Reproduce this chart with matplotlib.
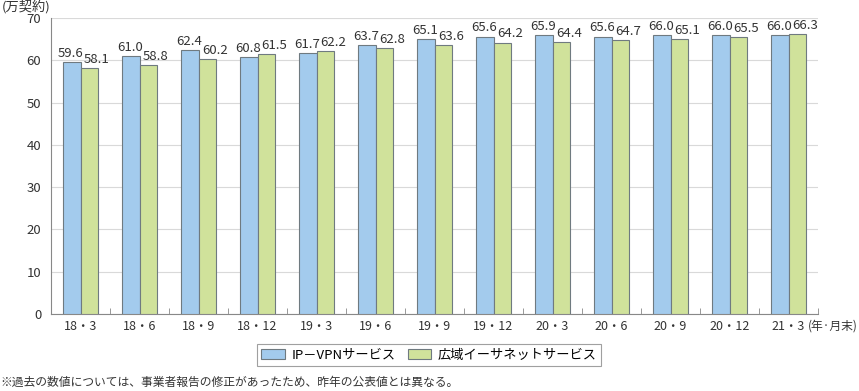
import numpy as np
import matplotlib
matplotlib.use('Agg')
import matplotlib.pyplot as plt
from matplotlib.patches import Patch

plt.rcParams['font.family'] = ['Noto Sans CJK JP', 'DejaVu Sans']

categories = ['18・3', '18・6', '18・9', '18・12', '19・3', '19・6', '19・9',
              '19・12', '20・3', '20・6', '20・9', '20・12', '21・3']
ipvpn = [59.6, 61.0, 62.4, 60.8, 61.7, 63.7, 65.1, 65.6, 65.9, 65.6, 66.0, 66.0, 66.0]
ether = [58.1, 58.8, 60.2, 61.5, 62.2, 62.8, 63.6, 64.2, 64.4, 64.7, 65.1, 65.5, 66.3]
yticks = [0, 10, 20, 30, 40, 50, 60, 70]

blue = '#a3cbed'
green = '#d0e29b'
edge = '#6f7a80'
text_col = '#333333'

fig = plt.figure(figsize=(8.59, 3.91), dpi=100)
ax = fig.add_axes([51 / 859, 1 - 314 / 391, 767 / 859, 296 / 391])

x = np.arange(len(categories))
w = 0.29
ax.bar(x - w / 2, ipvpn, w, color=blue, edgecolor=edge, linewidth=0.8, zorder=3)
ax.bar(x + w / 2, ether, w, color=green, edgecolor=edge, linewidth=0.8, zorder=3)

for xi, a, b in zip(x, ipvpn, ether):
    ax.text(xi - w / 2 - 0.02, a + 0.5, f'{a:.1f}', ha='center', va='bottom',
            fontsize=9.5, color=text_col)
    ax.text(xi + w / 2 + 0.13, b + 0.5, f'{b:.1f}', ha='center', va='bottom',
            fontsize=9.5, color=text_col)

ax.set_xlim(-0.5, len(categories) - 0.5)
ax.set_ylim(0, 70)
ax.set_yticks(yticks)
ax.set_yticklabels([str(v) for v in yticks], fontsize=9.5, color=text_col)
ax.set_xticks(x)
ax.set_xticklabels(categories, fontsize=9, color=text_col)
ax.tick_params(axis='x', length=0, pad=4)
ax.tick_params(axis='y', length=0, pad=7)
ax.set_xticks(np.arange(len(categories) + 1) - 0.5, minor=True)
ax.tick_params(axis='x', which='minor', length=4, direction='in', color='#888888')

ax.grid(axis='y', color='#d9d9d9', linewidth=0.8, zorder=0)
for s in ['top', 'right']:
    ax.spines[s].set_visible(False)
for s in ['left', 'bottom']:
    ax.spines[s].set_color('#888888')
    ax.spines[s].set_linewidth(0.8)

fig.text(2 / 859, 1 - 7 / 391, '(万契約)', fontsize=9.5, color=text_col, va='center')
fig.text(858 / 859, 1 - 326 / 391, '(年·月末)', fontsize=8.5, color=text_col,
         va='center', ha='right')

handles = [Patch(facecolor=blue, edgecolor=edge, linewidth=0.8, label='IP－VPNサービス'),
           Patch(facecolor=green, edgecolor=edge, linewidth=0.8, label='広域イーサネットサービス')]
leg = fig.legend(handles=handles, loc='center', bbox_to_anchor=(429 / 859, 1 - 355 / 391),
                 ncol=2, fontsize=9.5, frameon=True, fancybox=False, edgecolor='#888888',
                 handlelength=1.8, handleheight=0.7, columnspacing=0.9, borderpad=0.35,
                 handletextpad=0.5)
leg.get_frame().set_linewidth(0.8)

fig.text(0, 1 - 382 / 391,
         '※過去の数値については、事業者報告の修正があったため、昨年の公表値とは異なる。',
         fontsize=8.5, color=text_col, va='center')

fig.savefig('out.png', dpi=100)
